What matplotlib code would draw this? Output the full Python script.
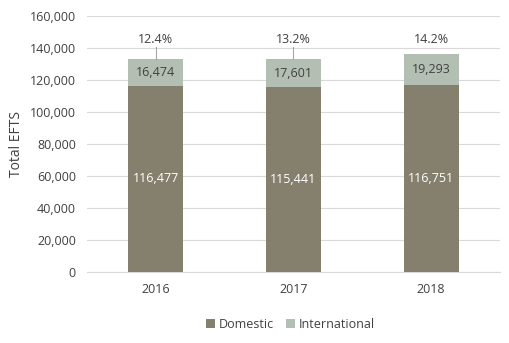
import matplotlib.pyplot as plt
import matplotlib.ticker as mticker

years = ["2016", "2017", "2018"]
domestic = [116477, 115441, 116751]
international = [16474, 17601, 19293]
pct = ["12.4%", "13.2%", "14.2%"]

plt.rcParams['font.family'] = ['Open Sans', 'DejaVu Sans']
text_col = "#404040"
dom_col = "#857f6e"
int_col = "#b3bfb3"

fig = plt.figure(figsize=(5.09, 3.43), dpi=100)
ax = fig.add_axes([0.171, 0.207, 0.811, 0.746])

x = range(len(years))
ax.bar(x, domestic, width=0.4, color=dom_col, label="Domestic", zorder=3)
ax.bar(x, international, width=0.4, bottom=domestic, color=int_col, label="International", zorder=3)

for i in x:
    ax.text(i, domestic[i] / 2, f"{domestic[i]:,}", ha="center", va="center",
            color="white", fontsize=9)
    ax.text(i, domestic[i] + international[i] / 2, f"{international[i]:,}",
            ha="center", va="center", color=text_col, fontsize=9)
    top = domestic[i] + international[i]
    ax.text(i, 145500, pct[i], ha="center", va="center", color=text_col, fontsize=9)
    # leader line only where the label sits well above the bar
    if 141000 - top > 6000:
        ax.plot([i, i], [top, 141000], color="#a6a6a6", lw=0.8, zorder=4)

ax.set_xlim(-0.5, 2.5)
ax.set_ylim(0, 160000)
ax.set_xticks(list(x))
ax.set_xticklabels(years)
ax.yaxis.set_major_locator(mticker.MultipleLocator(20000))
ax.yaxis.set_major_formatter(mticker.FuncFormatter(lambda v, p: f"{int(v):,}"))
ax.grid(axis="y", color="#d9d9d9", lw=0.8, zorder=0)
for s in ["top", "right", "left"]:
    ax.spines[s].set_visible(False)
ax.spines["bottom"].set_color("#d9d9d9")
ax.tick_params(axis="both", length=0, colors=text_col, labelsize=9)
ax.tick_params(axis="x", pad=8)
ax.tick_params(axis="y", pad=8)
ax.set_ylabel("Total EFTS", color=text_col, fontsize=10, labelpad=4)

fig.legend(loc="center", bbox_to_anchor=(0.57, 0.055), ncol=2, frameon=False,
           fontsize=9, handlelength=0.7, handleheight=0.7, handletextpad=0.3,
           columnspacing=1.0, labelcolor=text_col)

fig.savefig("out.png", dpi=100)
